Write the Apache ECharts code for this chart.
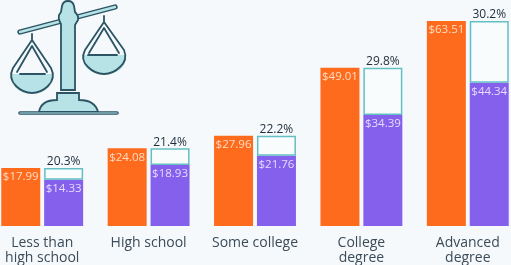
<!DOCTYPE html>
<html><head><meta charset="utf-8">
<style>html,body{margin:0;padding:0;background:#f5f9fc}#c{width:511px;height:265px}</style>
<script src="https://cdn.jsdelivr.net/npm/echarts@6/dist/echarts.min.js"></script></head>
<body><div id="c"></div>
<script>
const categories = ['Less than\nhigh school','High school','Some college','College\ndegree','Advanced\ndegree'];
const higherPay = [17.99,24.08,27.96,49.01,63.51];
const lowerPay = [14.33,18.93,21.76,34.39,44.34];
const payGapPct = ['20.3%','21.4%','22.2%','29.8%','30.2%'];
const gap = higherPay.map((v,i)=>+(v-lowerPay[i]).toFixed(2));
const money = p => '$'+p.value.toFixed(2);
const ink='#2b5464', teal='#b7e3e7';
const s={fill:teal,stroke:ink,lineWidth:1.8};
const line={fill:'none',stroke:ink,lineWidth:1.8,lineCap:'round',lineJoin:'round'};
const icon=[
 {type:'line',shape:{x1:20,y1:32,x2:115,y2:7},style:{stroke:ink,lineWidth:5.4,lineCap:'round'}},
 {type:'line',shape:{x1:20,y1:32,x2:115,y2:7},style:{stroke:teal,lineWidth:2.4,lineCap:'round'}},
 {type:'path',shape:{pathData:'M61 90 L61 24 Q58 19 59 15 L61 12 L62 6 Q63 1 68 1 Q73 1 74 6 L75 12 Q79 16 78 20 L75 25 L75 90 Z'},style:s},
 {type:'path',shape:{pathData:'M57 100 L57 93 L79 93 L79 100 Q95 100 98 112 L39 112 Q41 100 57 100 Z'},style:s},
 {type:'line',shape:{x1:20,y1:113,x2:117,y2:113},style:{stroke:ink,lineWidth:3.6,lineCap:'round'}},
 {type:'line',shape:{x1:20,y1:113,x2:117,y2:113},style:{stroke:teal,lineWidth:1.2,lineCap:'round'}},
 {type:'path',shape:{pathData:'M11 74 L53 74 Q53 93 32 93 Q11 93 11 74 Z'},style:{fill:teal,stroke:'none'}},
 {type:'path',shape:{pathData:'M32 34 L32 40 L13 68 Q8 78 16 86 Q23 93 32 93 Q41 93 48 86 Q56 78 51 68 L32 40'},style:line},
 {type:'path',shape:{pathData:'M32 46 L17 72 M32 46 L47 72 M20 74 L45 74'},style:line},
 {type:'path',shape:{pathData:'M83 55 L126 55 Q126 74 104 74 Q83 74 83 55 Z'},style:{fill:teal,stroke:'none'}},
 {type:'path',shape:{pathData:'M104 16 L104 22 L85 50 Q80 60 88 67 Q95 74 104 74 Q113 74 120 67 Q128 60 124 50 L104 22'},style:line},
 {type:'path',shape:{pathData:'M104 28 L89 53 M104 28 L119 53 M88 55 L117 55'},style:line}
];
const chart=echarts.init(document.getElementById('c'),null,{renderer:'canvas'});
chart.setOption({
 animation:false,backgroundColor:'#f5f9fc',
 textStyle:{fontFamily:'"Open Sans"'},
 grid:{left:-11,width:532,top:0,bottom:39,containLabel:false,outerBoundsMode:'none'},
 xAxis:{type:'category',data:categories,axisLine:{show:false},axisTick:{show:false},
  axisLabel:{color:'#3b4c58',fontSize:14,lineHeight:15,margin:10,interval:0,fontFamily:'"Open Sans"'}},
 yAxis:{type:'value',min:0,max:70,show:false},
 series:[
  {type:'bar',name:'Higher',data:higherPay,barWidth:39,barGap:'10%',itemStyle:{color:'#ff6b1c'},
   label:{show:true,position:'insideTop',distance:3,formatter:money,color:'#ffdcc4',fontSize:11.5}},
  {type:'bar',name:'Lower',stack:'p',data:lowerPay,barWidth:39,itemStyle:{color:'#8460ec'},
   label:{show:true,position:'insideTop',distance:3,formatter:money,color:'#e6dcff',fontSize:11.5}},
  {type:'bar',name:'Gap',stack:'p',data:gap,barWidth:39,itemStyle:{color:'#f9fcfd',borderColor:'#63bfc3',borderWidth:1.5},
   label:{show:true,position:'top',distance:0,formatter:p=>payGapPct[p.dataIndex],color:'#1f2d3a',fontSize:12,fontWeight:500}},
  {type:'custom',coordinateSystem:'none',silent:true,z:10,data:[0],
   renderItem:()=>({type:'group',children:icon})}
 ]
});
</script></body></html>
